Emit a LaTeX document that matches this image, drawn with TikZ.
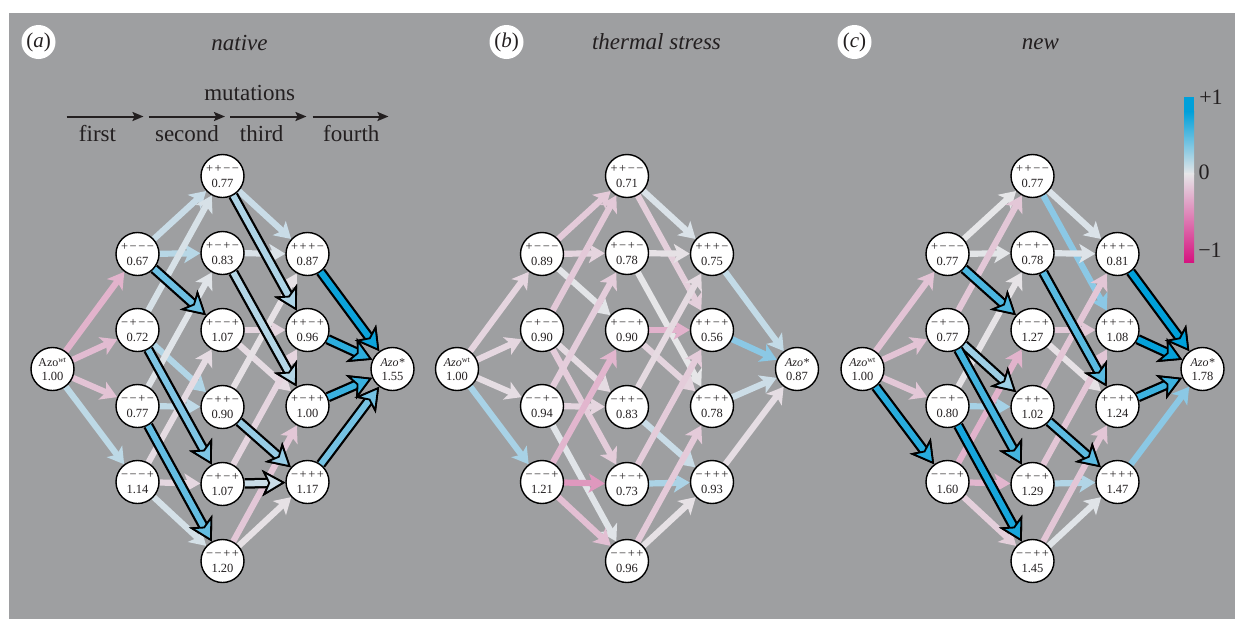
\documentclass[tikz,border=0pt]{standalone}
\usepackage{fontspec}
\setmainfont{Liberation Serif}
\usetikzlibrary{arrows.meta}
\pgfdeclarelayer{bglayer}
\pgfdeclarelayer{edgelayer}
\pgfsetlayers{bglayer,edgelayer,main}
\definecolor{bggray}{RGB}{158,159,161}
\definecolor{ink}{RGB}{35,31,32}
\definecolor{czero}{RGB}{230,230,232}
\definecolor{bmid}{RGB}{125,196,228}
\definecolor{bfull}{RGB}{0,160,218}
\definecolor{pmid}{RGB}{224,160,194}
\definecolor{pfull}{RGB}{214,20,128}
\newcommand\fs[1]{\fontsize{#1}{#1}\selectfont}
\newcommand\sgd[1]{\ifnum#1=1 +\else −\fi}
\newcommand\sgsp{\hspace{1.6pt}}
\newcommand\sgn[4]{\sgd{#1}\sgsp\sgd{#2}\sgsp\sgd{#3}\sgsp\sgd{#4}}
\newcommand\setec[1]{%
  \pgfmathtruncatemacro\ecN{(#1)<0}%
  \ifnum\ecN=1
    \pgfmathsetmacro\ecT{min(1,1.1*abs(#1))}%
  \else
    \pgfmathsetmacro\ecT{min(1,1.4*abs(#1))}%
  \fi
  \pgfmathsetmacro\ecA{min(100,200*\ecT)}%
  \pgfmathsetmacro\ecB{max(0,200*\ecT-100)}%
  \ifnum\ecN=1
    \colorlet{ecm}{pmid!\ecA!czero}\colorlet{ec}{pfull!\ecB!ecm}%
  \else
    \colorlet{ecm}{bmid!\ecA!czero}\colorlet{ec}{bfull!\ecB!ecm}%
  \fi}
\foreach \nid/\gk/\gy in {1000/1/254, 0100/1/330, 0010/1/406, 0001/1/482,
  1100/2/176, 1010/2/253, 1001/2/330, 0110/2/407, 0101/2/484, 0011/2/561,
  1110/3/254, 1101/3/330, 1011/3/406, 0111/3/482}{%
  \expandafter\xdef\csname K\nid\endcsname{\gk}%
  \expandafter\xdef\csname Y\nid\endcsname{\gy}}
\tikzset{
  gnode/.style={circle, draw=black, line width=1.4pt, fill=white, minimum size=43pt, inner sep=0pt},
  sgtext/.style={font=\fs{12.5}, inner sep=0pt, text=ink},
  valtext/.style={font=\fs{12.5}, inner sep=0pt, text=ink, anchor=base},
  thinedge/.style={line width=6.2pt, -{Stealth[length=16pt,width=19pt,inset=4pt]}},
  thickout/.style={line width=10.5pt, draw=black, -{Stealth[length=23pt,width=26pt,inset=6pt]}},
  thickin/.style={line width=6pt, -{Stealth[length=23pt,width=26pt,inset=6pt,fill=ec,color=black,line width=1.8pt]}},
  mutarrow/.style={line width=2pt, draw=ink, -{Stealth[length=11pt,width=9pt,inset=2pt]}},
  biglabel/.style={font=\fs{23}, text=ink, inner sep=0pt, anchor=base},
  panellabel/.style={circle, fill=white, minimum size=34pt, inner sep=0pt, font=\fs{21}, text=ink},
}
\newcommand\panelnodes[3]{%
  \foreach \nid/\nv in {#3} {%
    \edef\kk{\csname K\nid\endcsname}\edef\yy{\csname Y\nid\endcsname}%
    \pgfmathsetmacro\xx{#2+85*\kk}%
    \node[gnode] (#1-\nid) at (\xx,\yy) {};
    \node[sgtext] at (\xx,\yy-7) {\expandafter\sgn\nid};
    \node[valtext] at (\xx,\yy+11.5) {\nv};
  }}
\newcommand\paneledges[2]{%
  \foreach \ea/\eb/\cv/\hl in {#2} {%
    \ifnum\hl=0 \setec{\cv}\draw[thinedge,draw=ec] (#1-\ea) -- (#1-\eb);\fi}%
  \foreach \ea/\eb/\cv/\hl in {#2} {%
    \ifnum\hl=1 \setec{\cv}\draw[thickout] (#1-\ea) -- (#1-\eb);\draw[thickin,draw=ec] (#1-\ea) -- (#1-\eb);\fi}}
\begin{document}
\begin{tikzpicture}[x=1pt,y=-1pt]
\begin{pgfonlayer}{bglayer}
\fill[white] (0,0) rectangle (1235,619);
\fill[bggray] (9,13) rectangle (1235,619);
\end{pgfonlayer}
\useasboundingbox (0,0) rectangle (1235,619);

% panel titles
\node[panellabel] (la) at (38.5,42) {(\textit{a})};
\node[panellabel] (lb) at (506.5,42) {(\textit{b})};
\node[panellabel] (lc) at (854.5,42) {(\textit{c})};
\node[biglabel] (ta) at (239.5,50) {\textit{native}};
\node[biglabel] (tb) at (656.5,49.5) {\textit{thermal stress}};
\node[biglabel] (tc) at (1040.5,49.5) {\textit{new}};

% mutations legend
\node[biglabel] (mut) at (249.7,100) {mutations};
\coordinate (m1a) at (66.5,116.5); \coordinate (m1b) at (143.5,116.5);
\coordinate (m2a) at (148.5,116.5); \coordinate (m2b) at (225,116.5);
\coordinate (m3a) at (230,116.5); \coordinate (m3b) at (306.5,116.5);
\coordinate (m4a) at (312.5,116.5); \coordinate (m4b) at (388.5,116.5);
\draw[mutarrow] (m1a) -- (m1b);
\draw[mutarrow] (m2a) -- (m2b);
\draw[mutarrow] (m3a) -- (m3b);
\draw[mutarrow] (m4a) -- (m4b);
\node[biglabel] (l1) at (97.5,141.5) {first};
\node[biglabel] (l2) at (187,141.5) {second};
\node[biglabel] (l3) at (261.7,141.5) {third};
\node[biglabel] (l4) at (351.3,141.5) {fourth};

% colour bar
\fill[bfull] (1184,97) rectangle (1194,112);
\shade[top color=bfull, middle color=bmid, bottom color=czero] (1184,111.5) rectangle (1194,174);
\shade[top color=czero, middle color=pmid, bottom color=pfull] (1184,173.5) rectangle (1194,262);
\node[biglabel, font=\fs{22}] (cb1) at (1211,104.5) {+1};
\node[biglabel, font=\fs{22}] (cb0) at (1204,179.5) {0};
\node[biglabel, font=\fs{22}] (cb2) at (1210,257) {−1};

% ---------- nodes ----------
% panel a
\node[gnode] (a-0000) at (52.5,369) {};
\node[valtext, font=\fs{12}] at (52.5,366.5) {Azo\textsuperscript{\textit{wt}}};
\node[valtext] at (52.5,380.5) {1.00};
\node[gnode] (a-1111) at (392.5,369) {};
\node[valtext, font=\fs{12}] at (392.5,366.5) {\textit{Azo*}};
\node[valtext] at (392.5,380.5) {1.55};
\panelnodes{a}{52.5}{1000/0.67, 0100/0.72, 0010/0.77, 0001/1.14, 1100/0.77, 1010/0.83, 1001/1.07, 0110/0.90, 0101/1.07, 0011/1.20, 1110/0.87, 1101/0.96, 1011/1.00, 0111/1.17}
% panel b
\node[gnode] (b-0000) at (457,369) {};
\node[valtext, font=\fs{12}] at (457,366.5) {\textit{Azo}\textsuperscript{wt}};
\node[valtext] at (457,380.5) {1.00};
\node[gnode] (b-1111) at (797,369) {};
\node[valtext, font=\fs{12}] at (797,366.5) {\textit{Azo*}};
\node[valtext] at (797,380.5) {0.87};
\panelnodes{b}{457}{1000/0.89, 0100/0.90, 0010/0.94, 0001/1.21, 1100/0.71, 1010/0.78, 1001/0.90, 0110/0.83, 0101/0.73, 0011/0.96, 1110/0.75, 1101/0.56, 1011/0.78, 0111/0.93}
% panel c
\node[gnode] (c-0000) at (862.5,369) {};
\node[valtext, font=\fs{12}] at (862.5,366.5) {\textit{Azo}\textsuperscript{wt}};
\node[valtext] at (862.5,380.5) {1.00};
\node[gnode] (c-1111) at (1202.5,369) {};
\node[valtext, font=\fs{12}] at (1202.5,366.5) {\textit{Azo*}};
\node[valtext] at (1202.5,380.5) {1.78};
\panelnodes{c}{862.5}{1000/0.77, 0100/0.77, 0010/0.80, 0001/1.60, 1100/0.77, 1010/0.78, 1001/1.27, 0110/1.02, 0101/1.29, 0011/1.45, 1110/0.81, 1101/1.08, 1011/1.24, 0111/1.47}

% ---------- edges ----------
\begin{pgfonlayer}{edgelayer}
\paneledges{a}{0000/1000/-0.33/0, 0000/0100/-0.28/0, 0000/0010/-0.23/0, 0000/0001/0.14/0,
 1000/1100/0.10/0, 1000/1010/0.16/0, 1000/1001/0.40/1, 0100/1100/0.05/0, 0100/0110/0.18/0, 0100/0101/0.35/1,
 0010/1010/0.02/0, 0010/0110/0.13/0, 0010/0011/0.43/1, 0001/1001/-0.07/0, 0001/0101/-0.10/0, 0001/0011/0.06/0,
 1100/1110/0.10/0, 1100/1101/0.19/1, 1010/1110/0.04/0, 1010/1011/0.17/1, 1001/1101/-0.11/0, 1001/1011/-0.07/0,
 0110/1110/-0.03/0, 0110/0111/0.27/1, 0101/1101/-0.11/0, 0101/0111/0.10/1, 0011/1011/-0.20/0, 0011/0111/-0.03/0,
 1110/1111/0.68/1, 1101/1111/0.59/1, 1011/1111/0.55/1, 0111/1111/0.38/1}
\paneledges{b}{0000/1000/-0.11/0, 0000/0100/-0.10/0, 0000/0010/-0.06/0, 0000/0001/0.21/0,
 1000/1100/-0.18/0, 1000/1010/-0.11/0, 1000/1001/0.01/0, 0100/1100/-0.19/0, 0100/0110/-0.07/0, 0100/0101/-0.17/0,
 0010/1010/-0.16/0, 0010/0110/-0.11/0, 0010/0011/0.02/0, 0001/1001/-0.31/0, 0001/0101/-0.48/0, 0001/0011/-0.25/0,
 1100/1110/0.04/0, 1100/1101/-0.15/0, 1010/1110/-0.03/0, 1010/1011/0.00/0, 1001/1101/-0.34/0, 1001/1011/-0.12/0,
 0110/1110/-0.08/0, 0110/0111/0.10/0, 0101/1101/-0.17/0, 0101/0111/0.20/0, 0011/1011/-0.18/0, 0011/0111/-0.03/0,
 1110/1111/0.12/0, 1101/1111/0.31/0, 1011/1111/0.09/0, 0111/1111/-0.06/0}
\paneledges{c}{0000/1000/-0.23/0, 0000/0100/-0.23/0, 0000/0010/-0.20/0, 0000/0001/0.60/1,
 1000/1100/0.00/0, 1000/1010/0.01/0, 1000/1001/0.50/1, 0100/1100/-0.20/0, 0100/0110/0.25/1, 0100/0101/0.52/1,
 0010/1010/-0.02/0, 0010/0110/0.22/0, 0010/0011/0.65/1, 0001/1001/-0.33/0, 0001/0101/-0.31/0, 0001/0011/-0.15/0,
 1100/1110/0.04/0, 1100/1101/0.31/0, 1010/1110/0.03/0, 1010/1011/0.46/1, 1001/1101/-0.19/0, 1001/1011/-0.03/0,
 0110/1110/-0.21/0, 0110/0111/0.45/1, 0101/1101/-0.21/0, 0101/0111/0.18/0, 0011/1011/-0.21/0, 0011/0111/0.02/0,
 1110/1111/0.97/1, 1101/1111/0.70/1, 1011/1111/0.54/1, 0111/1111/0.31/0}
\end{pgfonlayer}
\end{tikzpicture}
\end{document}
